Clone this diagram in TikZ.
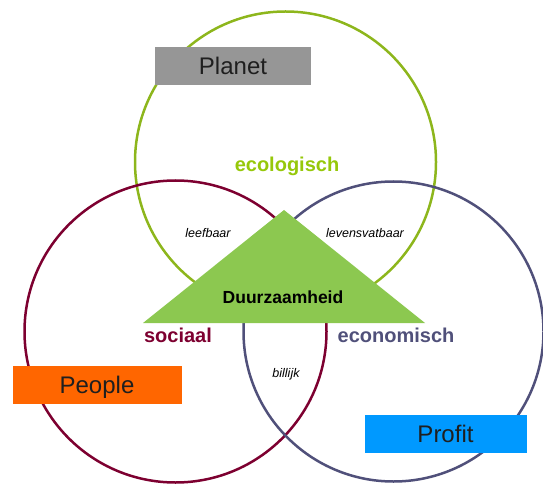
\documentclass[tikz,border=0pt]{standalone}
\usepackage{fontspec}
\setmainfont{Liberation Sans}

\definecolor{planetgreen}{RGB}{141,182,28}
\definecolor{ecotext}{RGB}{150,200,10}
\definecolor{peoplered}{RGB}{125,0,48}
\definecolor{profitblue}{RGB}{80,80,122}
\definecolor{trianglegreen}{RGB}{140,200,80}
\definecolor{planetgray}{RGB}{150,150,150}
\definecolor{peopleorange}{RGB}{255,102,0}
\definecolor{profitcyan}{RGB}{0,153,255}

\begin{document}
\begin{tikzpicture}[x=1pt, y=-1pt,
                    ring/.style={line width=2.5pt},
                    pillar/.style={anchor=base, font=\bfseries\fontsize{20}{24}\selectfont},
                    quality/.style={anchor=base, font=\itshape\fontsize{12.5}{15}\selectfont},
                    tagbox/.style={inner sep=0pt, minimum height=38pt, text height=17pt, text depth=0pt,
                                   text=black!88, font=\fontsize{24}{28}\selectfont}]
                    \useasboundingbox (0,0) rectangle (543,486);

                    % de drie cirkels
                    \draw[ring, planetgreen] (285.5,162) circle [radius=150.5pt];
                    \draw[ring, peoplered] (175.5,331.5) circle [radius=151pt];
                    \draw[ring, profitblue] (393.5,331.5) circle [radius=150pt];

                    % driehoek
                    \coordinate (top) at (284,210);
                    \coordinate (left) at (143,323);
                    \coordinate (right) at (425,323);
                    \fill[trianglegreen] (top) -- (left) -- (right) -- cycle;

                    \node[anchor=base, font=\bfseries\fontsize{17.5}{20}\selectfont, name=duurzaam] at (283,303) {Duurzaamheid};

                    \node[pillar, text=ecotext, name=eco] at (287,172) {ecologisch};
                    \node[pillar, text=peoplered, name=soc] at (178,342) {sociaal};
                    \node[pillar, text=profitblue, name=econ] at (396,342) {economisch};

                    \node[quality, name=leef] at (208,238) {leefbaar};
                    \node[quality, name=levens] at (365,238) {levensvatbaar};
                    \node[quality, name=bil] at (286,377) {billijk};

                    % labels
                    \node[tagbox, fill=planetgray, minimum width=156pt, name=planet] at (233,66.5) {Planet};
                    \node[tagbox, fill=peopleorange, minimum width=169pt, name=people] at (97,384.5) {People};
                    \node[tagbox, fill=profitcyan, minimum width=162pt, name=profit] at (445.5,434) {Profit};
                \end{tikzpicture}
\end{document}
